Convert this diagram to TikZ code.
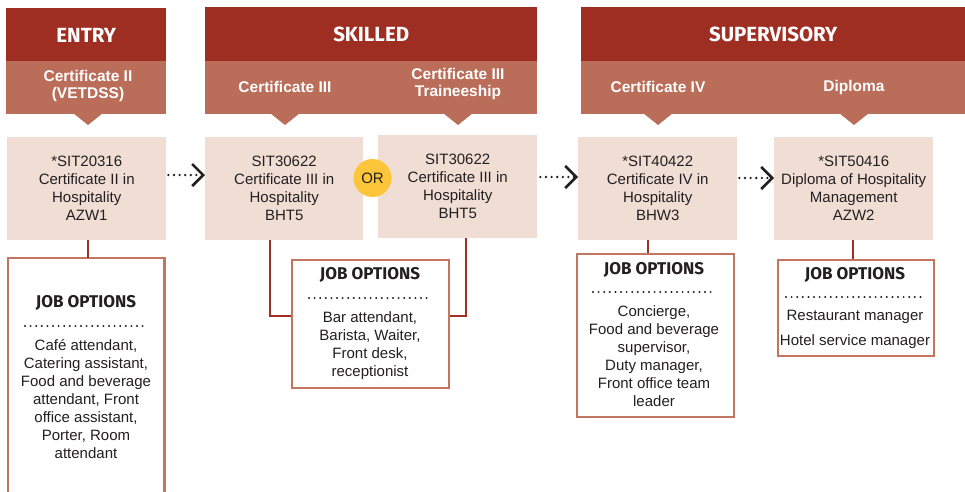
\documentclass[tikz,border=0pt]{standalone}
\usepackage{fontspec}
\setmainfont{Liberation Sans}
\newfontfamily\firabold{Fira Sans}[UprightFont=* Bold]
\usetikzlibrary{arrows.meta}
\definecolor{stagered}{RGB}{158,46,34}
\definecolor{bandred}{RGB}{186,109,88}
\definecolor{certfill}{RGB}{240,222,213}
\definecolor{jobedge}{RGB}{194,117,96}
\definecolor{linkred}{RGB}{160,48,34}
\definecolor{orgold}{RGB}{253,197,58}
\definecolor{inkgray}{RGB}{35,31,32}

\tikzset{
  stage/.style={fill=stagered, text=white, anchor=north west, inner sep=0pt,
    minimum height=54pt, font=\firabold\fontsize{20.5}{24}\selectfont},
  band/.style={fill=bandred, anchor=north west, inner sep=0pt, minimum height=53pt},
  bandlabel/.style={text=white, align=center, inner sep=0pt,
    font=\bfseries\fontsize{15.5}{17.5}\selectfont},
  pointer/.style={fill=bandred},
  certbox/.style={fill=certfill, text=inkgray, anchor=north west, inner sep=0pt,
    minimum width=159pt, minimum height=103pt, align=center,
    font=\fontsize{15}{18}\selectfont},
  jobbox/.style={draw=jobedge, line width=2.2pt, fill=white, anchor=north west, inner sep=0pt},
  jobtitle/.style={text=inkgray, inner sep=0pt, font=\firabold\fontsize{17}{20}\selectfont},
  joblist/.style={text=inkgray, inner sep=0pt, align=center,
    font=\fontsize{15}{18}\selectfont},
  jobdots/.style={draw=inkgray, line width=2.2pt, dash pattern=on 0pt off 5.6pt, line cap=round},
  link/.style={draw=linkred, line width=2.2pt},
  nextstep/.style={draw=inkgray, line width=2.6pt, dash pattern=on 0pt off 5.6pt, line cap=round,
    -{Straight Barb[length=11pt,width=22pt,line width=2.6pt]}},
  orbadge/.style={circle, fill=orgold, text=inkgray, minimum size=38pt, inner sep=0pt,
    font=\fontsize{15}{18}\selectfont}
}

\begin{document}
\begin{tikzpicture}[x=1pt,y=-1pt]
    \useasboundingbox (0,0) rectangle (965,491);

    % Stage headers
    \node[stage, minimum width=160pt] (entry) at (6,8) {ENTRY};
    \node[stage, minimum width=332pt] (skilled) at (205,7) {SKILLED};
    \node[stage, minimum width=384pt] (superv) at (581,7) {SUPERVISORY};

    % Qualification bands
    \node[band, minimum width=160pt] (entryband) at (6,61) {};
    \node[band, minimum width=332pt] (skilledband) at (205,61) {};
    \node[band, minimum width=384pt] (supervband) at (581,61) {};

    \node[bandlabel] (lcert2) at (88,86) {Certificate II\\(VETDSS)};
    \node[bandlabel] (lcert3) at (285,87) {Certificate III};
    \node[bandlabel] (ltrain) at (458,84) {Certificate III\\Traineeship};
    \node[bandlabel] (lcert4) at (658,87) {Certificate IV};
    \node[bandlabel] (ldip) at (854,87) {Diploma};

    % Pointers
    \foreach \px in {88,285,458,658,854}
        \fill[pointer] (\px-15,113) -- (\px+15,113) -- (\px,125) -- cycle;

    % Qualifications
    \node[certbox] (sit2) at (7,137) {*SIT20316\\Certificate II in\\Hospitality\\AZW1};
    \node[certbox, minimum width=158pt] (sit3) at (205,137) {SIT30622\\Certificate III in\\Hospitality\\BHT5};
    \node[certbox] (sit3t) at (378,135) {SIT30622\\Certificate III in\\Hospitality\\BHT5};
    \node[certbox] (sit4) at (578,137) {*SIT40422\\Certificate IV in\\Hospitality\\BHW3};
    \node[certbox] (sit5) at (774,137) {*SIT50416\\Diploma of Hospitality\\Management\\AZW2};

    \node[orbadge] (or) at (372.5,178) {OR};

    % Progression
    \draw[nextstep] (sit2.east |- 0,175) ++(2,0) coordinate (a1) -- (sit3.west |- a1);
    \draw[nextstep] (sit3t.east |- 0,177) ++(3,0) coordinate (a2) -- (sit4.west |- a2);
    \draw[nextstep] (sit4.east |- 0,178) ++(2,0) coordinate (a3) -- (sit5.west |- a3);

    % Job options - entry
    \node[anchor=north west, inner sep=0pt, minimum width=156pt, minimum height=234pt] (jobentry) at (8,258) {};
    \fill[white] (jobentry.south west) rectangle (jobentry.north east);
    \draw[jobedge, line width=2.2pt] (jobentry.south west) -- (jobentry.north west)
        -- (jobentry.north east) -- (jobentry.south east);
    \draw[link] (sit2.south -| 88,0) -- (jobentry.north -| 88,0);
    \node[jobtitle] (tentry) at (86,303) {JOB OPTIONS};
    \draw[jobdots] (25,326) -- (148,326);
    \node[joblist] (lentry) at (86,399) {Café attendant,\\Catering assistant,\\Food and beverage\\attendant, Front\\office assistant,\\Porter, Room\\attendant};

    % Job options - skilled
    \node[jobbox, minimum width=157pt, minimum height=128pt] (jobskilled) at (291,259) {};
    \draw[link] (sit3.south -| 270,0) |- (jobskilled.west |- 0,316);
    \draw[link] (sit3t.south -| 466,0) |- (jobskilled.east |- 0,316);
    \node[jobtitle] (tskilled) at (370,275) {JOB OPTIONS};
    \draw[jobdots] (309,298) -- (432,298);
    \node[joblist] (lskilled) at (370,345.5) {Bar attendant,\\Barista, Waiter,\\Front desk,\\receptionist};

    % Job options - certificate IV
    \node[jobbox, minimum width=157pt, minimum height=163pt] (jobcert4) at (576,253) {};
    \draw[link] (sit4.south -| 648,0) -- (jobcert4.north -| 648,0);
    \node[jobtitle] (tcert4) at (654,270) {JOB OPTIONS};
    \draw[jobdots] (593,292) -- (716,292);
    \node[joblist] (lcert4jobs) at (654,356.5) {Concierge,\\Food and beverage\\supervisor,\\Duty manager,\\Front office team\\leader};

    % Job options - diploma
    \node[jobbox, minimum width=156pt, minimum height=96pt] (jobdip) at (777,259) {};
    \draw[link] (sit5.south -| 853,0) -- (jobdip.north -| 853,0);
    \node[jobtitle] (tdip) at (855,275) {JOB OPTIONS};
    \draw[jobdots] (786,297) -- (924,297);
    \node[joblist, font=\fontsize{15}{25}\selectfont] (ldipjobs) at (855,329.5) {Restaurant manager\\Hotel service manager};
\end{tikzpicture}
\end{document}
